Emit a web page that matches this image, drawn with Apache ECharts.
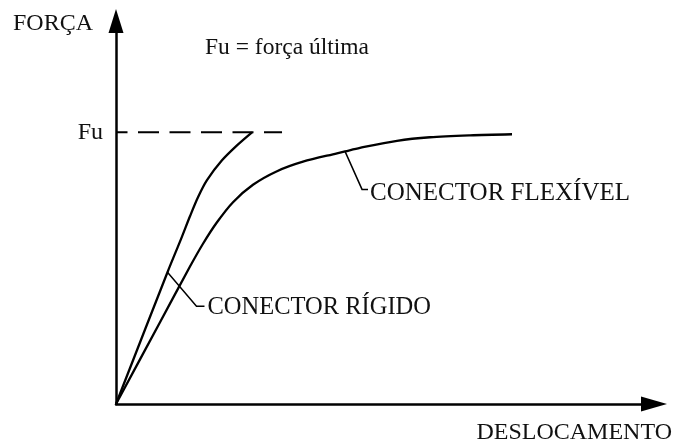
<!DOCTYPE html>
<html>
<head>
<meta charset="utf-8">
<script src="https://cdn.jsdelivr.net/npm/echarts@6/dist/echarts.min.js"></script>
<style>
  html, body { margin: 0; padding: 0; background: #fff; }
  #chart { width: 678px; height: 445px; }
</style>
</head>
<body>
<div id="chart"></div>
<script>
// força normalizada (Fu = 1) x deslocamento (unidades arbitrarias)
var rigido = [[0, 0], [0.957, 0.485], [1.208, 0.607], [1.375, 0.691], [1.524, 0.761], [1.691, 0.824],
  [1.97, 0.897], [2.249, 0.952], [2.528, 1.0]];
var flexivel = [[0, 0], [0.818, 0.301], [1.375, 0.506], [1.617, 0.59], [1.877, 0.669], [2.175, 0.743],
  [2.546, 0.807], [2.993, 0.857], [3.476, 0.892], [4.108, 0.923], [4.257, 0.93], [4.535, 0.943],
  [5.223, 0.969], [5.836, 0.982], [6.58, 0.989], [7.361, 0.993]];
var linhaFu = [[0, 1], [3.086, 1]];
var rotuloRigido = 'CONECTOR RÍGIDO';
var rotuloFlexivel = 'CONECTOR FLEXÍVEL';

var fonte = '"Liberation Serif", "Times New Roman", serif';
var chart = echarts.init(document.getElementById('chart'));

var option = {
  animation: false,
  backgroundColor: '#fff',
  grid: { left: 116, right: 24, top: 21, bottom: 41 },
  xAxis: {
    type: 'value', min: 0, max: 10,
    name: 'DESLOCAMENTO', nameLocation: 'end', nameGap: 18,
    nameTextStyle: { fontFamily: fonte, fontSize: 24, color: '#111', align: 'right', verticalAlign: 'top', padding: [17, 0, 0, 0] },
    axisLine: { show: true, symbol: ['none', 'triangle'], symbolSize: [15, 26], lineStyle: { color: '#000', width: 2.5 } },
    axisTick: { show: false }, axisLabel: { show: false }, splitLine: { show: false }
  },
  yAxis: {
    type: 'value', min: 0, max: 1.41, interval: 1,
    name: 'FORÇA', nameLocation: 'end', nameGap: -3,
    nameTextStyle: { fontFamily: fonte, fontSize: 24, color: '#111', align: 'right', verticalAlign: 'middle', padding: [0, 23, 0, 0] },
    axisLine: { show: true, symbol: ['none', 'triangle'], symbolSize: [15, 24], lineStyle: { color: '#000', width: 2.5 } },
    axisTick: { show: false },
    axisLabel: {
      margin: 13, fontFamily: fonte, fontSize: 24, color: '#111',
      formatter: function (v) { return v === 1 ? 'Fu' : ''; }
    },
    splitLine: { show: false }
  },
  series: [
    { name: 'rigido', type: 'line', data: rigido, smooth: 0.3, showSymbol: false,
      lineStyle: { color: '#000', width: 2.3 } },
    { name: 'flexivel', type: 'line', data: flexivel, smooth: 0.3, showSymbol: false,
      lineStyle: { color: '#000', width: 2.3 } },
    { name: 'Fu', type: 'line', data: linhaFu, showSymbol: false,
      lineStyle: { color: '#000', width: 2, type: [21, 10.5], dashOffset: 9.5 } }
  ]
};
chart.setOption(option);

// linhas de chamada dos rotulos, ancoradas nos pontos das curvas
var pr = chart.convertToPixel({ seriesIndex: 0 }, rigido[1]);
var pf = chart.convertToPixel({ seriesIndex: 1 }, flexivel[10]);
chart.setOption({
  graphic: [
    { type: 'text', left: 205, top: 36,
      style: { text: 'Fu = força última', font: '23.5px ' + fonte, fill: '#111' } },
    { type: 'polyline', shape: { points: [[pr[0], pr[1]], [pr[0] + 29, pr[1] + 34], [pr[0] + 37, pr[1] + 34]] },
      style: { stroke: '#000', lineWidth: 1.5, fill: null } },
    { type: 'text', x: pr[0] + 40, y: pr[1] + 35,
      style: { text: rotuloRigido, font: '24.5px ' + fonte, fill: '#111', verticalAlign: 'middle' } },
    { type: 'polyline', shape: { points: [[pf[0], pf[1]], [pf[0] + 17, pf[1] + 38], [pf[0] + 23, pf[1] + 38]] },
      style: { stroke: '#000', lineWidth: 1.5, fill: null } },
    { type: 'text', x: pf[0] + 25, y: pf[1] + 42,
      style: { text: rotuloFlexivel, font: '25px ' + fonte, fill: '#111', verticalAlign: 'middle' } }
  ]
});
</script>
</body>
</html>
